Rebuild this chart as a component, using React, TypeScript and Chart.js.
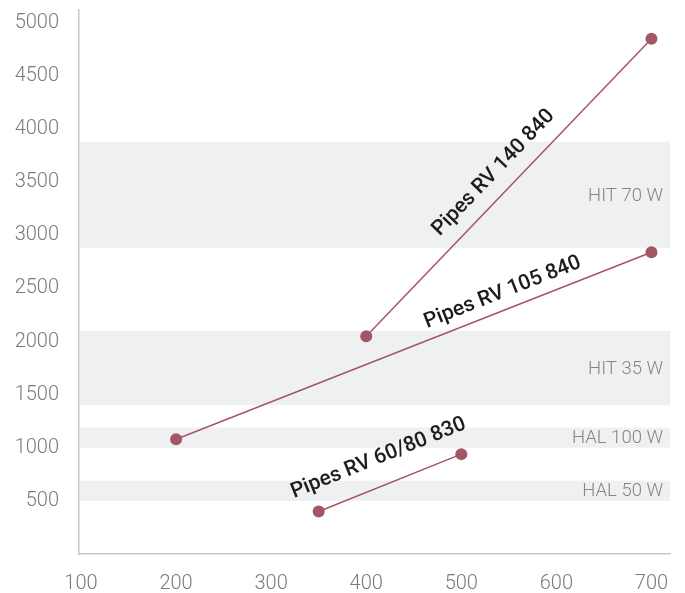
import React, { useEffect, useRef } from "react";
import { Chart, registerables } from "chart.js";

Chart.register(...registerables);

// ---- data ----
const X_TICKS = [100, 200, 300, 400, 500, 600, 700];
const Y_TICKS = [500, 1000, 1500, 2000, 2500, 3000, 3500, 4000, 4500, 5000];

const SERIES_NAMES = ["Pipes RV 140 840", "Pipes RV 105 840", "Pipes RV 60/80 830"];
const SERIES_X = [
  [400, 700],
  [200, 700],
  [350, 500],
];
const SERIES_Y = [
  [2050, 4850],
  [1080, 2840],
  [400, 940],
];

const BAND_LABELS = ["HIT 70 W", "HIT 35 W", "HAL 100 W", "HAL 50 W"];
const BAND_LOW = [2880, 1400, 1000, 500];
const BAND_HIGH = [3880, 2100, 1190, 690];

// ---- styles ----
const LINE_COLOR = "#a35663";
const BAND_COLOR = "#eff0f2";
const AXIS_COLOR = "#c8c8c8";
const TICK_COLOR = "#7b7b7b";
const BAND_TEXT_COLOR = "#858585";
const LABEL_COLOR = "#1c1c1c";
const FONT = "Roboto, 'Liberation Sans', sans-serif";

// label placement along each line: fraction along line, perpendicular offset (px)
const LABEL_PLACE = [
  { t: 0.5, off: 21 },
  { t: 0.7, off: 17 },
  { t: 0.49, off: 27 },
];

const bandsPlugin = {
  id: "bands",
  beforeDatasetsDraw(chart: any) {
    const { ctx, chartArea, scales } = chart;
    const y = scales.y;
    ctx.save();
    for (let i = 0; i < BAND_LABELS.length; i++) {
      const top = y.getPixelForValue(BAND_HIGH[i]);
      const bot = y.getPixelForValue(BAND_LOW[i]);
      ctx.fillStyle = BAND_COLOR;
      ctx.fillRect(chartArea.left + 1, top, chartArea.right - chartArea.left - 1, bot - top);
      ctx.fillStyle = BAND_TEXT_COLOR;
      ctx.font = `300 18.5px ${FONT}`;
      ctx.textAlign = "right";
      ctx.textBaseline = "middle";
      ctx.fillText(BAND_LABELS[i], chartArea.right - 7, (top + bot) / 2 + 1);
    }
    ctx.restore();
  },
};

const lineLabelsPlugin = {
  id: "lineLabels",
  afterDatasetsDraw(chart: any) {
    const { ctx, scales } = chart;
    ctx.save();
    for (let i = 0; i < SERIES_NAMES.length; i++) {
      const x0 = scales.x.getPixelForValue(SERIES_X[i][0]);
      const y0 = scales.y.getPixelForValue(SERIES_Y[i][0]);
      const x1 = scales.x.getPixelForValue(SERIES_X[i][1]);
      const y1 = scales.y.getPixelForValue(SERIES_Y[i][1]);
      const ang = Math.atan2(y1 - y0, x1 - x0);
      const len = Math.hypot(x1 - x0, y1 - y0);
      const ux = (x1 - x0) / len;
      const uy = (y1 - y0) / len;
      const nx = uy;
      const ny = -ux;
      const p = LABEL_PLACE[i];
      const cx = x0 + (x1 - x0) * p.t + nx * p.off;
      const cy = y0 + (y1 - y0) * p.t + ny * p.off;
      ctx.translate(cx, cy);
      ctx.rotate(ang);
      ctx.fillStyle = LABEL_COLOR;
      ctx.font = `500 21px ${FONT}`;
      ctx.textAlign = "center";
      ctx.textBaseline = "middle";
      ctx.fillText(SERIES_NAMES[i], 0, 0);
      ctx.setTransform(1, 0, 0, 1, 0, 0);
    }
    ctx.restore();
  },
};

export default function App() {
  const ref = useRef<HTMLCanvasElement>(null);
  useEffect(() => {
    if (!ref.current) return;
    const datasets = SERIES_NAMES.map((name, i) => ({
      label: name,
      data: SERIES_X[i].map((x, j) => ({ x, y: SERIES_Y[i][j] })),
      borderColor: LINE_COLOR,
      backgroundColor: LINE_COLOR,
      pointBackgroundColor: LINE_COLOR,
      pointBorderColor: LINE_COLOR,
      pointRadius: 6,
      pointBorderWidth: 0,
      borderWidth: 1.5,
      showLine: true,
    }));
    const chart = new Chart(ref.current, {
      type: "scatter",
      data: { datasets },
      plugins: [bandsPlugin, lineLabelsPlugin],
      options: {
        animation: false,
        responsive: false,
        devicePixelRatio: 1,
        layout: { padding: { top: 10, right: 15, left: 0, bottom: 0 } },
        plugins: { legend: { display: false }, tooltip: { enabled: false } },
        scales: {
          x: {
            type: "linear",
            min: 97.9,
            max: 719.5,
            grid: { display: false, drawTicks: false },
            border: { display: true, color: AXIS_COLOR, width: 1.5 },
            ticks: {
              color: TICK_COLOR,
              padding: 18,
              font: { family: FONT, size: 20, weight: "300" },
              maxRotation: 0,
              autoSkip: false,
              callback: (v: any) => String(v),
            },
            afterBuildTicks: (s: any) => {
              s.ticks = X_TICKS.map((v) => ({ value: v }));
            },
            afterFit: (s: any) => {
              s.height = 39;
              s.paddingLeft = 0;
              s.paddingRight = 0;
            },
          },
          y: {
            type: "linear",
            min: 0,
            max: 5120,
            grid: { display: false, drawTicks: false },
            border: { display: true, color: AXIS_COLOR, width: 1.5 },
            ticks: {
              color: TICK_COLOR,
              padding: 20,
              font: { family: FONT, size: 20, weight: "300" },
              autoSkip: false,
              callback: (v: any) => String(v),
            },
            afterBuildTicks: (s: any) => {
              s.ticks = Y_TICKS.map((v) => ({ value: v }));
            },
            afterFit: (s: any) => {
              s.width = 79;
              s.paddingTop = 0;
              s.paddingBottom = 0;
            },
          },
        },
      },
    } as any);
    return () => chart.destroy();
  }, []);
  return (
    <div style={{ position: "fixed", left: 0, top: 0, width: 685, height: 593, background: "#fff" }}>
      <canvas ref={ref} width={685} height={593} style={{ width: 685, height: 593 }} />
    </div>
  );
}
